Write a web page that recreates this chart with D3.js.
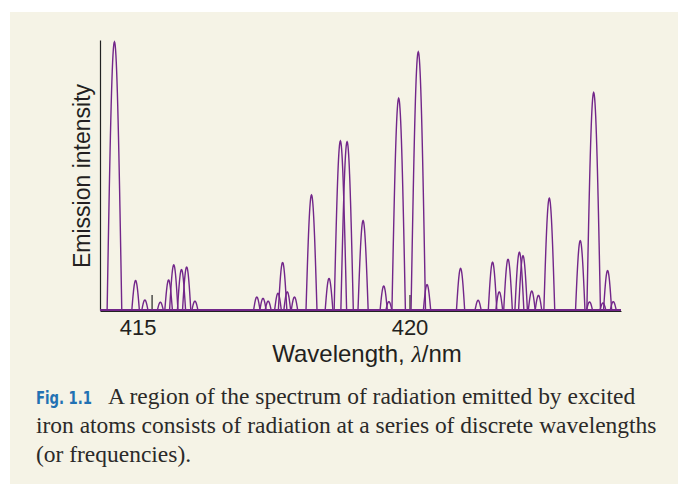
<!DOCTYPE html>
<html>
<head>
<meta charset="utf-8">
<script src="https://cdn.jsdelivr.net/npm/d3@7"></script>
<style>
  body { margin: 0; background: #fff; }
  svg { display: block; }
</style>
</head>
<body>
<div id="chart"></div>
<script>
// emission lines: wavelength (nm) and relative intensity (0-100)
const wavelengths = [
  414.28, 414.69, 414.87, 415.17, 415.33, 415.43, 415.58, 415.68, 415.84,
  417.04, 417.16, 417.26, 417.45, 417.54, 417.63, 417.77, 418.10, 418.44,
  418.66, 418.79, 419.10, 419.50, 419.60, 419.79, 420.17, 420.34, 420.99,
  421.33, 421.61, 421.74, 421.91, 422.13, 422.20, 422.37, 422.50, 422.71,
  423.31, 423.49, 423.57, 423.75, 423.84, 423.95
];
const intensities = [
  99.3, 10.9, 3.7, 2.9, 11.1, 16.7, 15.0, 15.9, 3.3,
  4.8, 4.3, 3.3, 6.2, 17.6, 6.7, 4.8, 42.6, 11.7,
  62.6, 62.3, 33.1, 8.9, 3.1, 78.4, 95.6, 9.4, 15.4,
  3.6, 17.7, 6.7, 18.8, 21.4, 20.1, 7.0, 5.4, 41.4,
  25.7, 3.0, 80.5, 2.6, 14.6, 3.1
];
const xTicks = [415, 420];
const xDomain = [414.0, 424.1];
const yDomain = [0, 100];

const captionLabel = "Fig. 1.1";
const captionLines = [
  "A region of the spectrum of radiation emitted by excited",
  "iron atoms consists of radiation at a series of discrete wavelengths",
  "(or frequencies)."
];

const W = 678, H = 486;
const svg = d3.select("#chart").append("svg")
  .attr("width", W)
  .attr("height", H);

svg.append("rect")
  .attr("x", 10).attr("y", 12)
  .attr("width", W - 10).attr("height", 472)
  .attr("fill", "#f5f3e6");

const x = d3.scaleLinear().domain(xDomain).range([100, 621]);
const y = d3.scaleLinear().domain(yDomain).range([310, 40]);

const peaks = wavelengths.map((wl, i) => ({ wl, I: intensities[i] }));

// axes
const xAxis = d3.axisBottom(x)
  .tickValues(xTicks)
  .tickFormat(d3.format("d"))
  .tickSizeInner(-16)
  .tickSizeOuter(0)
  .tickPadding(8);

const gx = svg.append("g")
  .attr("transform", `translate(0,${y(0) + 1})`)
  .call(xAxis);
gx.select(".domain").attr("stroke", "#222").attr("stroke-width", 1.2);
gx.selectAll(".tick line").attr("stroke", "#222").attr("stroke-width", 1.2);
gx.selectAll(".tick text")
  .attr("fill", "#231f20")
  .style("font-family", "'Liberation Sans', Arial, sans-serif")
  .style("font-size", "22px")
  .attr("dx", (d, i) => i === 0 ? -14 : 0);

const gy = svg.append("g")
  .attr("transform", `translate(${x(xDomain[0])},0)`)
  .call(d3.axisLeft(y).tickValues([]).tickSizeOuter(0));
gy.select(".domain").attr("stroke", "#222").attr("stroke-width", 1.2);

// spectrum
const purple = "#72268a";
svg.append("line")
  .attr("x1", x(xDomain[0])).attr("x2", x(xDomain[1]))
  .attr("y1", y(0)).attr("y2", y(0))
  .attr("stroke", purple)
  .attr("stroke-width", 2);

const line = d3.line();
const steps = d3.range(-1, 1.0001, 0.05);

svg.append("g")
  .selectAll("path")
  .data(peaks)
  .join("path")
  .attr("fill", "none")
  .attr("stroke", purple)
  .attr("stroke-width", 1.4)
  .attr("d", d => {
    const cx = x(d.wl);
    const h = y(0) - y(d.I);
    const w = 4 + 0.65 * Math.sqrt(h);
    return line(steps.map(t => [cx + t * w / 2, y(0) - h * Math.cos(t * Math.PI / 2)]));
  });

// axis titles
const sans = "'Liberation Sans', Arial, sans-serif";
const xTitle = svg.append("text")
  .attr("x", 367)
  .attr("y", 362)
  .attr("text-anchor", "middle")
  .attr("fill", "#231f20")
  .style("font-family", sans)
  .style("font-size", "24px");
xTitle.append("tspan").text("Wavelength, ");
xTitle.append("tspan")
  .style("font-family", "'Liberation Serif', serif")
  .style("font-style", "italic")
  .text("λ");
xTitle.append("tspan").text("/nm");

svg.append("text")
  .attr("transform", "translate(90,176) rotate(-90)")
  .attr("text-anchor", "middle")
  .attr("fill", "#231f20")
  .style("font-family", sans)
  .style("font-size", "23px")
  .text("Emission intensity");

// caption
const serif = "'Liberation Serif', 'Times New Roman', serif";
const cap = svg.append("g").attr("fill", "#2b2a29");
const baselines = [404, 433, 462];

// condensed bold label, squeezed to the reference width
cap.append("text")
  .attr("x", 36).attr("y", baselines[0])
  .attr("fill", "#2271b3")
  .attr("textLength", 56)
  .attr("lengthAdjust", "spacingAndGlyphs")
  .style("font-family", "'DejaVu Sans Condensed', 'DejaVu Sans', sans-serif")
  .style("font-weight", "bold")
  .style("font-size", "18px")
  .text(captionLabel);

const first = cap.append("text")
  .attr("x", 108).attr("y", baselines[0])
  .style("font-family", serif)
  .style("font-size", "20px")
  .text(captionLines[0]);

const others = captionLines.slice(1).map((t, i) =>
  cap.append("text")
    .attr("x", 36).attr("y", baselines[i + 1])
    .style("font-family", serif)
    .style("font-size", "20px")
    .text(t)
);

// fit caption width to the panel (second line spans ~621px)
const measured = others[0].node().getComputedTextLength();
const fs = 20 * 621 / measured;
first.style("font-size", fs + "px");
others.forEach(t => t.style("font-size", fs + "px"));
</script>
</body>
</html>
